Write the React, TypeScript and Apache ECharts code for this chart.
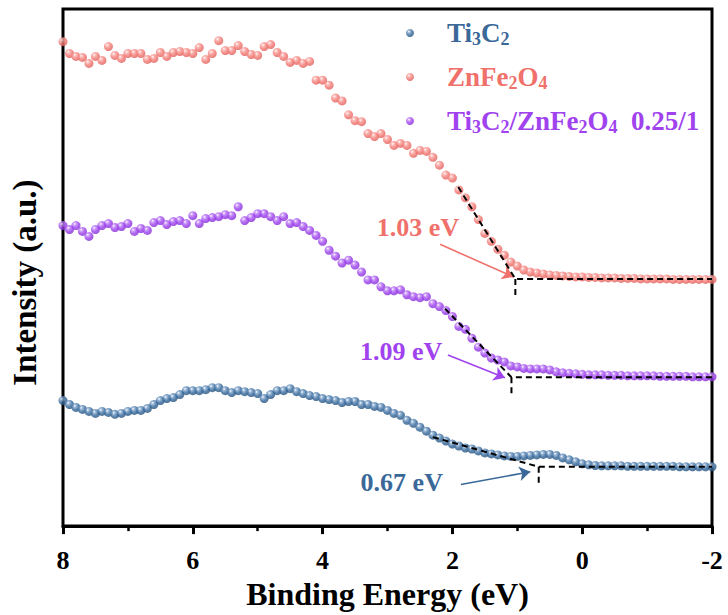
import React, { useEffect, useRef } from 'react';
import * as echarts from 'echarts';

// Binding energy grid (eV), 0.1 eV step from 8 to -2
const energies: number[] = Array.from({ length: 101 }, (_, i) => +(8 - i * 0.1).toFixed(1));

const seriesNames = ['Ti3C2', 'ZnFe2O4', 'Ti3C2/ZnFe2O4 0.25/1'];

// Intensity (a.u.)
const ti3c2: number[] = [
  127, 123, 120, 118, 116, 114, 116, 115, 113, 114,
  116, 117, 117, 119, 123, 127, 129, 130, 133, 137,
  137, 137, 138, 140, 140, 137, 135, 137, 136, 135,
  134, 129, 133, 137, 137, 139, 136, 134, 132, 131,
  129, 128, 127, 125, 126, 126, 123, 123, 121, 120,
  117, 114, 112, 107, 104, 100, 96, 92, 89, 86,
  83, 81, 79, 78, 76, 74, 73, 72, 71, 70.5,
  70.5, 71, 71.5, 72, 72.5, 72.5, 71.5, 69, 67, 65,
  63, 62, 61.3, 61, 61, 61, 61, 60.5, 60.5, 60.5,
  60.5, 60.5, 60.5, 60.5, 60.5, 60, 60, 60, 60, 60,
  60,
];

const znfe2o4: number[] = [
  490, 478, 475, 474, 468, 475, 471, 485, 476, 473,
  478, 478, 478, 472, 473, 479, 475, 479, 480, 479,
  478, 484, 472, 478, 491, 481, 481, 486, 480, 477,
  476, 485, 487, 479, 475, 469, 471, 468, 470, 451,
  451, 446, 433, 430, 416, 410, 409, 397, 394, 397,
  391, 385, 387, 385, 377, 380, 379, 373, 365, 355,
  352, 340, 332, 323, 310, 296, 288, 280, 274, 267,
  263, 259, 257, 256, 255, 254, 253.5, 253, 252.5, 252,
  252, 251.5, 251.5, 251, 251, 251, 250.5, 250.5, 250.5, 250,
  250, 250, 250, 250, 249.5, 249.5, 249.5, 249.5, 249.5, 249.5,
  249.5,
];

const composite: number[] = [
  304, 300, 304, 298, 293, 300, 304, 306, 302, 303,
  306, 298, 301, 299, 307, 309, 305, 308, 309, 306,
  314, 306, 311, 312, 313, 315, 314, 323, 309, 312,
  316, 316, 313, 309, 313, 306, 307, 303, 299, 294,
  288, 279, 273, 266, 269, 264, 257, 249, 249, 242,
  238, 238, 239, 234, 232, 231, 232, 225, 222, 218,
  212, 202, 199, 190, 181, 175, 170, 168, 166, 162,
  161, 159.5, 159, 159, 159, 158, 156, 155, 154.5, 154,
  153.5, 153, 153, 153, 152.5, 152.5, 152.5, 152, 152, 152,
  152, 152, 151.5, 151.5, 151.5, 151.5, 151.5, 151, 151, 151,
  151,
];

// Band-edge extrapolation (order: Ti3C2, ZnFe2O4, composite)
const gapValues = [0.67, 1.03, 1.09];
const gapLabels = ['0.67 eV', '1.03 eV', '1.09 eV'];
const baselines = [60, 250, 150.5];
const tangentStarts: [number, number][] = [[2.3, 90], [1.91, 343], [2.114, 220]];
const dropEnds = [42, 232, 134];
const arrowStarts: [number, number][] = [[1.87, 42], [2.19, 285], [2.07, 173]];
const arrowEnds: [number, number][] = [[0.8, 55], [1.06, 252], [1.19, 150]];
const labelPositions: [number, number][] = [[2.78, 44], [2.53, 302], [2.79, 177]];

const markerBase = ['#33679A', '#F27671', '#9B3DEC'];
const markerLight = ['#86A9CF', '#F9ADA9', '#C38AF6'];
const markerDark = ['#28527C', '#DE5F5A', '#8430D4'];
const textColors = ['#3A6898', '#F0716B', '#A043EE'];

const FONT = "'Liberation Serif', 'Times New Roman', serif";

const legendFormats: Record<string, string> = {
  'Ti3C2': '{m|Ti}{s|3}{m|C}{s|2}',
  'ZnFe2O4': '{m|ZnFe}{s|2}{m|O}{s|4}',
  'Ti3C2/ZnFe2O4 0.25/1': '{m|Ti}{s|3}{m|C}{s|2}{m|/ZnFe}{s|2}{m|O}{s|4}{m|  0.25/1}',
};

export default function App() {
  const ref = useRef<HTMLDivElement>(null);

  useEffect(() => {
    if (!ref.current) return;
    const chart = echarts.init(ref.current, undefined, { renderer: 'svg' });
    const datasets = [ti3c2, znfe2o4, composite];

    const sphere = (i: number) =>
      new echarts.graphic.RadialGradient(0.36, 0.32, 0.72, [
        { offset: 0, color: '#ffffff' },
        { offset: 0.22, color: markerLight[i] },
        { offset: 0.6, color: markerBase[i] },
        { offset: 1, color: markerDark[i] },
      ]);

    const scatterSeries = datasets.map((vals, i) => ({
      name: seriesNames[i],
      type: 'scatter',
      symbol: 'circle',
      symbolSize: 9,
      z: 2,
      itemStyle: { color: sphere(i) },
      data: vals.map((v, k) => [energies[k], v]),
      markLine: {
        silent: true,
        symbol: ['none', 'arrow'],
        symbolSize: 11,
        label: { show: false },
        lineStyle: { color: textColors[i], width: 1.6, type: 'solid' },
        data: [[{ coord: arrowStarts[i] }, { coord: arrowEnds[i] }]],
      },
      markPoint: {
        silent: true,
        symbol: 'circle',
        symbolSize: 1,
        itemStyle: { color: 'transparent' },
        label: {
          show: true,
          position: 'inside',
          formatter: gapLabels[i],
          fontFamily: FONT,
          fontWeight: 'bold',
          fontSize: 26,
          color: textColors[i],
        },
        data: [{ coord: labelPositions[i] }],
      },
    }));

    const dashStyle = { color: '#000', width: 2, type: [6, 4] as number[] };
    const dashSeries: any[] = [];
    gapValues.forEach((g, i) => {
      dashSeries.push({
        type: 'line',
        silent: true,
        symbol: 'none',
        z: 5,
        lineStyle: dashStyle,
        data: [tangentStarts[i], [g, baselines[i]], [-2, baselines[i]]],
      });
      dashSeries.push({
        type: 'line',
        silent: true,
        symbol: 'none',
        z: 5,
        lineStyle: dashStyle,
        data: [[g, baselines[i]], [g, dropEnds[i]]],
      });
    });

    chart.setOption({
      animation: false,
      backgroundColor: '#fff',
      grid: {
        left: 63,
        right: 16,
        top: 9,
        bottom: 83,
        show: true,
        borderColor: '#000',
        borderWidth: 3,
      },
      legend: {
        orient: 'vertical',
        left: 401,
        top: 14,
        itemWidth: 64,
        itemHeight: 8,
        itemGap: 15,
        icon: 'circle',
        data: seriesNames.map((n, i) => ({ name: n, textStyle: { color: textColors[i] } })),
        formatter: (name: string) => legendFormats[name] || name,
        textStyle: {
          fontFamily: FONT,
          fontWeight: 'bold',
          rich: {
            m: {
              fontFamily: FONT,
              fontWeight: 'bold',
              fontSize: 27,
              lineHeight: 30,
              verticalAlign: 'bottom',
              padding: [0, 0, 2, 0],
            },
            s: {
              fontFamily: FONT,
              fontWeight: 'bold',
              fontSize: 18,
              lineHeight: 18,
              verticalAlign: 'bottom',
            },
          },
        },
      },
      xAxis: {
        type: 'value',
        min: -2,
        max: 8,
        interval: 2,
        inverse: true,
        name: 'Binding Energy (eV)',
        nameLocation: 'middle',
        nameGap: 51,
        nameTextStyle: { fontFamily: FONT, fontWeight: 'bold', fontSize: 32, color: '#000' },
        axisLine: { show: true, lineStyle: { color: '#000', width: 3 } },
        axisTick: { show: true, inside: false, length: 8, lineStyle: { color: '#000', width: 3 } },
        minorTick: { show: true, splitNumber: 2, length: 5, lineStyle: { color: '#000', width: 2.5 } },
        axisLabel: {
          fontFamily: FONT,
          fontWeight: 'bold',
          fontSize: 26,
          color: '#000',
          margin: 21,
          showMinLabel: true,
          showMaxLabel: true,
        },
        splitLine: { show: false },
        minorSplitLine: { show: false },
      },
      yAxis: {
        type: 'value',
        min: 0,
        max: 523,
        name: 'Intensity (a.u.)',
        nameLocation: 'middle',
        nameGap: 22,
        nameTextStyle: {
          fontFamily: FONT,
          fontWeight: 'bold',
          fontSize: 33,
          color: '#000',
          padding: [0, 30, 0, 0],
        },
        axisLine: { show: false },
        axisTick: { show: false },
        axisLabel: { show: false },
        splitLine: { show: false },
      },
      series: [...scatterSeries, ...dashSeries],
    });

    return () => chart.dispose();
  }, []);

  return (
    <div
      ref={ref}
      style={{ position: 'absolute', left: 0, top: 0, width: 728, height: 615 }}
    />
  );
}
